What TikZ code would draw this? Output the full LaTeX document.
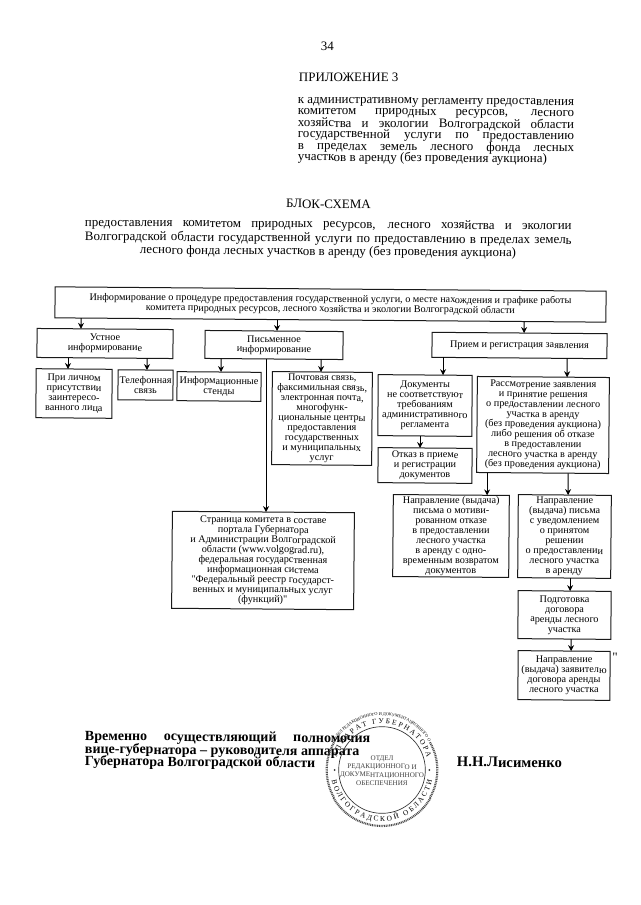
\documentclass[tikz,border=0pt]{standalone}
\usepackage{fontspec}
\setmainfont{Liberation Serif}
\newfontfamily\rawf{Liberation Serif}
\usetikzlibrary{arrows.meta,decorations.text}
\tikzset{
  every node/.style={rotate=-0.45},
  boxn/.style={draw=black!90,line width=0.75pt,fill=white,inner sep=0pt,outer sep=0pt,align=center,
    font=\fontsize{7.65}{7.5}\selectfont},
  arr/.style={line width=0.75pt,-{Stealth[length=4.5pt,width=4.5pt]}},
  plain/.style={inner sep=0pt,outer sep=0pt,anchor=west,font=\fontsize{9.7}{10}\selectfont},
  sig/.style={inner sep=0pt,outer sep=0pt,anchor=west,font=\fontsize{10.5}{10.5}\selectfont\bfseries},
}
\newcommand\bx[6]{\node[boxn,minimum width={(#4-#2)*0.75pt},minimum height={(#5-#3)*0.75pt}] (#1) at ({(#2+#4)/2},{(#3+#5)/2}) {#6};}
\newcommand\conn[3]{\coordinate (ca) at (#3,0); \coordinate (cb) at (#3,10);
  \draw[arr] (intersection cs: first line={(#1.south west)--(#1.south east)}, second line={(ca)--(cb)})
    -- (intersection cs: first line={(#2.north west)--(#2.north east)}, second line={(ca)--(cb)});}
\newcommand\jl[5]{\node[#1] (#2) at (#3) {\makebox[#4][s]{#5}};}
\begin{document}
\begin{tikzpicture}[x=0.75pt,y=-0.75pt]
\path[use as bounding box,fill=white] (0,0) rectangle (640,905);
% header
\node[plain] (pg) at (321,46) {34};
\node[plain] (app) at (299,77) {ПРИЛОЖЕНИЕ 3};
\jl{plain}{h1}{298,101.5}{207pt}{к административному регламенту предоставления}
\jl{plain}{h2}{298,112.5}{207pt}{комитетом природных ресурсов, лесного}
\jl{plain}{h3}{298,123.5}{207pt}{хозяйства и экологии Волгоградской области}
\jl{plain}{h4}{298,134.5}{207pt}{государственной услуги по предоставлению}
\jl{plain}{h5}{298,146.5}{207pt}{в пределах земель лесного фонда лесных}
\node[plain] (h6) at (298,157.5) {участков в аренду (без проведения аукциона)};
\node[plain,anchor=center] (ttl) at (328.5,204) {БЛОК-СХЕМА};
\jl{plain}{t1}{85,223}{365pt}{предоставления комитетом природных ресурсов, лесного хозяйства и экологии}
\jl{plain}{t2}{85,237}{365pt}{Волгоградской области государственной услуги по предоставлению в пределах земель}
\node[plain,anchor=center] (t3) at (328,252) {лесного фонда лесных участков в аренду (без проведения аукциона)};
% boxes
\bx{top}{55}{289}{606}{320}{Информирование о процедуре предоставления государственной услуги, о месте нахождения и графике работы\\комитета природных ресурсов, лесного хозяйства и экологии Волгоградской области}
\bx{oral}{37}{329}{173}{358}{Устное\\информирование}
\bx{writ}{205}{331}{343}{359}{Письменное\\информирование}
\bx{recv}{432}{333}{607}{358}{Прием и регистрация заявления}
\bx{pers}{36}{369}{112}{418}{При личном\\присутствии\\заинтересо-\\ванного лица}
\bx{tel}{118}{370}{173}{400}{Телефонная\\связь}
\bx{stand}{177}{372}{261}{401}{Информационные\\стенды}
\bx{post}{272}{372}{372}{465}{Почтовая связь,\\факсимильная связь,\\электронная почта,\\многофунк-\\циональные центры\\предоставления\\государственных\\и муниципальных\\услуг}
\bx{docs}{378}{375}{472}{436}{Документы\\не соответствуют\\требованиям\\административного\\регламента}
\bx{refuse}{378}{448}{472}{483}{Отказ в приеме\\и регистрации\\документов}
\bx{review}{477}{377}{609}{473}{Рассмотрение заявления\\и принятие решения\\о предоставлении лесного\\участка в аренду\\(без проведения аукциона)\\либо решения об отказе\\в предоставлении\\лесного участка в аренду\\(без проведения аукциона)}
\bx{portal}{172}{512}{354}{609}{Страница комитета в составе\\портала Губернатора\\и Администрации Волгоградской\\области (www.volgograd.ru),\\федеральная государственная\\информационная система\\{\rawf"}Федеральный реестр государст-\\венных и муниципальных услуг\\(функций){\rawf"}}
\bx{deny}{393}{495}{509}{577}{Направление (выдача)\\письма о мотиви-\\рованном отказе\\в предоставлении\\лесного участка\\в аренду с одно-\\временным возвратом\\документов}
\bx{notify}{518}{495}{611}{578}{Направление\\(выдача) письма\\с уведомлением\\о принятом\\решении\\о предоставлении\\лесного участка\\в аренду}
\bx{prep}{518}{591}{611}{639}{Подготовка\\договора\\аренды лесного\\участка}
\bx{issue}{518}{651}{610}{700}{Направление\\(выдача) заявителю\\договора аренды\\лесного участка}
\node[plain,anchor=center] (qm) at (615,657) {\rawf"};
% connectors
\conn{top}{oral}{81}
\conn{top}{writ}{277}
\conn{top}{recv}{524}
\conn{oral}{pers}{68}
\conn{oral}{tel}{147}
\conn{writ}{stand}{221}
\conn{writ}{post}{321}
\conn{writ}{portal}{266}
\conn{recv}{docs}{443}
\conn{recv}{review}{567}
\conn{docs}{refuse}{420}
\conn{review}{deny}{487}
\conn{review}{notify}{568}
\conn{notify}{prep}{570}
\conn{prep}{issue}{571}
% signature
\jl{sig}{s1}{85,737}{214pt}{Временно осуществляющий полномочия}
\node[sig] (s2) at (85,750) {вице-губернатора – руководителя аппарата};
\node[sig] (s3) at (85,762) {Губернатора Волгоградской области};
\node[sig,font=\fontsize{11}{11}\selectfont\bfseries] (s4) at (457,762) {Н.Н.Лисименко};
% stamp
\begin{scope}[shift={(382,770)},x=1pt,y=1pt,black!80]
  \draw[line width=0.5pt] (0,0) circle (32.5pt);
  \path[decorate,decoration={text along path,text align={fit to path},
    text={|\fontsize{5.5}{5.5}\selectfont|АППАРАТ ГУБЕРНАТОРА}}] (165:35pt) arc (165:15:35pt);
  \path[decorate,decoration={text along path,text align={fit to path},
    text={|\fontsize{5.5}{5.5}\selectfont|ВОЛГОГРАДСКОЙ ОБЛАСТИ}}] (192:38.5pt) arc (192:348:38.5pt);
  \path[decorate,decoration={text along path,text align={fit to path},
    text={|\fontsize{3.2}{3.2}\selectfont|ОТДЕЛ РЕДАКЦИОННОГО И ДОКУМЕНТАЦИОННОГО ОБЕСПЕЧЕНИЯ}}] (150:41pt) arc (150:30:41pt);
  \draw[line width=1.6pt,dash pattern=on 0.7pt off 0.6pt,black!70] (150:41.5pt) arc (150:210:41.5pt);
  \draw[line width=1.6pt,dash pattern=on 0.7pt off 0.6pt,black!70] (30:41.5pt) arc (30:-30:41.5pt);
  \draw[line width=1.6pt,dash pattern=on 0.7pt off 0.6pt,black!70] (210:42pt) arc (210:330:42pt);
  \fill (180:35.5pt) circle (0.8pt);
  \fill (0:35.5pt) circle (0.8pt);
  \node[inner sep=0pt,align=center,text=black!75,font=\fontsize{5.3}{6.2}\selectfont] (st) at (0,-0.5pt) {ОТДЕЛ\\РЕДАКЦИОННОГО И\\ДОКУМЕНТАЦИОННОГО\\ОБЕСПЕЧЕНИЯ};
\end{scope}
\end{tikzpicture}
\end{document}
